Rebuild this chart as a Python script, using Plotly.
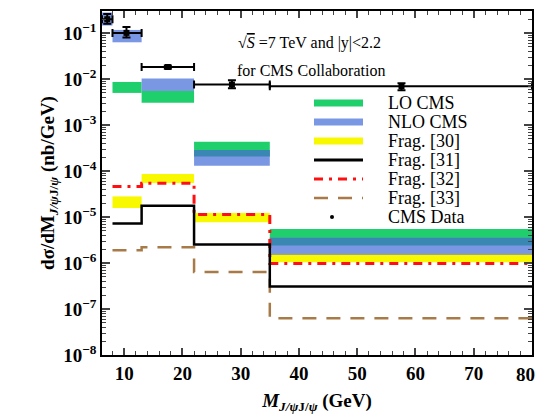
import plotly.graph_objects as go

# ---------------- data ----------------
bin_lo = [8, 13, 22, 35]
bin_hi = [13, 22, 35, 80]

# LO CMS (green) bands: lower / upper per bin
lo_cms_low = [5.0e-3, 3.04e-3, 2.06e-4, 2.40e-6]
lo_cms_high = [8.65e-3, 5.5e-3, 4.35e-4, 5.52e-6]

# NLO CMS (blue) bands, incl. first bin 6.2-8
nlo_bin_lo = [6.2, 8, 13, 22, 35]
nlo_bin_hi = [8, 13, 22, 35, 80]
nlo_cms_low = [0.146, 0.063, 5.5e-3, 1.30e-4, 1.51e-6]
nlo_cms_high = [0.28, 0.117, 1.03e-2, 2.88e-4, 3.56e-6]

# Frag. [30] (yellow) bands
frag30_low = [1.57e-5, 5.47e-5, 7.67e-6, 1.04e-6]
frag30_high = [2.81e-5, 8.57e-5, 1.23e-5, 1.61e-6]

# Frag. [31], [32], [33] step histograms
frag31 = [7.2e-6, 1.77e-5, 2.53e-6, 3.07e-7]
frag32 = [4.62e-5, 5.4e-5, 1.13e-5, 9.8e-7]
frag33 = [1.90e-6, 2.21e-6, 6.35e-7, 6.3e-8]

# CMS data
data_x = [7.1, 10.4, 17.5, 28.5, 57.6]
data_xlo = [6.2, 8, 13, 22, 35]
data_xhi = [8, 13, 22, 35, 80]
data_y = [0.2, 0.101, 0.0183, 7.6e-3, 7.0e-3]
data_ylo = [0.16, 0.0804, 0.0168, 6.3e-3, 5.7e-3]
data_yhi = [0.26, 0.135, 0.0198, 9.4e-3, 8.1e-3]

x_ticks = [10, 20, 30, 40, 50, 60, 70]
x_last_label = "80"
y_ticks = [1e-8, 1e-7, 1e-6, 1e-5, 1e-4, 1e-3, 1e-2, 1e-1]
y_ticktext = ["10<sup>−8</sup>", "10<sup>−7</sup>", "10<sup>−6</sup>", "10<sup>−5</sup>",
              "10<sup>−4</sup>", "10<sup>−3</sup>", "10<sup>−2</sup>", "10<sup>−1</sup>"]

legend_names = ["LO CMS", "NLO CMS", "Frag. [30]", "Frag. [31]", "Frag. [32]", "Frag. [33]", "CMS Data"]

# ---------------- styles ----------------
GREEN = "#1ecf6b"
BLUE = "#7a97e3"
TEAL = "#3a87b4"
YELLOW = "#f8f800"
GRAY = "#9aa08a"
RED = "#ff1010"
BROWN = "#a87a48"
FONT = "Liberation Serif"

fig = go.Figure()


def box(x0, x1, y0, y1, color):
    fig.add_trace(go.Scatter(x=[x0, x1, x1, x0, x0], y=[y0, y0, y1, y1, y0],
                             mode="lines", fill="toself", fillcolor=color,
                             line=dict(width=0), hoverinfo="skip", showlegend=False))


# yellow bands
for a, b, l, h in zip(bin_lo, bin_hi, frag30_low, frag30_high):
    box(a, b, l, h, YELLOW)
# green bands
for a, b, l, h in zip(bin_lo, bin_hi, lo_cms_low, lo_cms_high):
    box(a, b, l, h, GREEN)
# blue bands
for a, b, l, h in zip(nlo_bin_lo, nlo_bin_hi, nlo_cms_low, nlo_cms_high):
    box(a, b, l, h, BLUE)
# overlaps
for a, b, l, h in zip(bin_lo, bin_hi, lo_cms_low, lo_cms_high):
    for a2, b2, l2, h2 in zip(nlo_bin_lo, nlo_bin_hi, nlo_cms_low, nlo_cms_high):
        if a == a2 and b == b2 and max(l, l2) < min(h, h2):
            box(a, b, max(l, l2), min(h, h2), TEAL)
for a, b, l, h in zip(bin_lo, bin_hi, frag30_low, frag30_high):
    for a2, b2, l2, h2 in zip(nlo_bin_lo, nlo_bin_hi, nlo_cms_low, nlo_cms_high):
        if a == a2 and b == b2 and max(l, l2) < min(h, h2):
            box(a, b, max(l, l2), min(h, h2), GRAY)


def step(vals, color, dash, width):
    xs = list(bin_lo) + [bin_hi[-1]]
    ys = list(vals) + [vals[-1]]
    fig.add_trace(go.Scatter(x=xs, y=ys, mode="lines", line_shape="hv",
                             line=dict(color=color, dash=dash, width=width),
                             hoverinfo="skip", showlegend=False))


step(frag33, BROWN, "14px,10px", 2.5)
step(frag32, RED, "9px,6px,3px,6px", 3)
step(frag31, "black", "solid", 2.5)

fig.add_trace(go.Scatter(
    x=data_x, y=data_y, mode="markers",
    marker=dict(color="black", size=6, symbol="square"),
    error_x=dict(type="data", symmetric=False,
                 array=[h - x for h, x in zip(data_xhi, data_x)],
                 arrayminus=[x - l for l, x in zip(data_xlo, data_x)],
                 color="black", thickness=2, width=4),
    error_y=dict(type="data", symmetric=False,
                 array=[h - y for h, y in zip(data_yhi, data_y)],
                 arrayminus=[y - l for l, y in zip(data_ylo, data_y)],
                 color="black", thickness=2, width=4),
    showlegend=False, hoverinfo="skip"))

# ---------------- manual legend (paper coords) ----------------
X0, X1 = 102, 532
Y0, Y1 = 11, 355


def px(x):
    return (x - X0) / (X1 - X0)


def py(y):
    return (Y1 - y) / (Y1 - Y0)


rows = [103 + 19 * i for i in range(7)]
sx0, sx1 = px(314), px(363)
shapes = []
for i, (name, yy) in enumerate(zip(legend_names, rows)):
    if i < 3:
        col = [GREEN, BLUE, YELLOW][i]
        shapes.append(dict(type="rect", xref="paper", yref="paper", x0=sx0, x1=sx1,
                           y0=py(yy + 3.5), y1=py(yy - 3.5), fillcolor=col, line=dict(width=0)))
    elif i < 6:
        col, dash, w = [("black", "solid", 3), (RED, "9px,6px,3px,6px", 3),
                        (BROWN, "14px,10px", 2.5)][i - 3]
        shapes.append(dict(type="line", xref="paper", yref="paper", x0=sx0, x1=sx1,
                           y0=py(yy), y1=py(yy), line=dict(color=col, dash=dash, width=w)))
    else:
        shapes.append(dict(type="circle", xref="paper", yref="paper",
                           x0=px(330), x1=px(334), y0=py(yy + 2), y1=py(yy - 2),
                           fillcolor="black", line=dict(width=0)))

annotations = []
for name, yy in zip(legend_names, rows):
    annotations.append(dict(x=px(386), y=py(yy), xref="paper", yref="paper", text=name,
                            showarrow=False, xanchor="left", yanchor="middle",
                            font=dict(family=FONT, size=18, color="black")))

annotations.append(dict(x=px(309), y=py(43), xref="paper", yref="paper",
                        text="√<i><span style='text-decoration:overline'>S</span></i> =7 TeV and |y|&lt;2.2",
                        showarrow=False, xanchor="center", yanchor="middle",
                        font=dict(family=FONT, size=16, color="black")))
annotations.append(dict(x=px(311), y=py(70), xref="paper", yref="paper",
                        text="for CMS Collaboration",
                        showarrow=False, xanchor="center", yanchor="middle",
                        font=dict(family=FONT, size=16, color="black")))
# last x tick label, nudged inward as in the reference
annotations.append(dict(x=px(525), y=py(374), xref="paper", yref="paper",
                        text="<b>" + x_last_label + "</b>",
                        showarrow=False, xanchor="center", yanchor="middle",
                        font=dict(family=FONT, size=19, color="black")))

minor_y = [k * 10.0 ** e for e in range(-8, 0) for k in range(2, 10)]

fig.update_layout(
    width=541, height=414,
    margin=dict(l=102, r=9, t=11, b=59),
    plot_bgcolor="white", paper_bgcolor="white",
    shapes=shapes, annotations=annotations,
    showlegend=False,
    font=dict(family=FONT, color="black"),
    xaxis=dict(range=[6.2, 80], tickvals=x_ticks,
               ticks="inside", ticklen=7, tickwidth=1.5, automargin=False,
               showline=True, linecolor="black", linewidth=1.5, mirror="allticks",
               showgrid=False, zeroline=False,
               minor=dict(dtick=2, tick0=0, ticks="inside", ticklen=4, tickwidth=1.2, showgrid=False),
               tickfont=dict(family=FONT, size=19, color="black", weight="bold"),
               title=dict(text="<b><i>M</i><sub><i>J/ψ</i>J/<i>ψ</i></sub> (GeV)</b>",
                          font=dict(family=FONT, size=19, color="black"), standoff=12)),
    yaxis=dict(type="log", range=[-8, -0.52], tickvals=y_ticks, ticktext=y_ticktext,
               ticks="inside", ticklen=8, tickwidth=1.5, automargin=False,
               showline=True, linecolor="black", linewidth=1.5, mirror="allticks",
               showgrid=False, zeroline=False,
               minor=dict(tickvals=minor_y, ticks="inside", ticklen=4, tickwidth=1.2, showgrid=False),
               tickfont=dict(family=FONT, size=19, color="black", weight="bold"),
               ticklabelstandoff=0,
               title=dict(text="<b>dσ/dM<sub><i>J/ψ</i>J/<i>ψ</i></sub> (nb/GeV)</b>",
                          font=dict(family=FONT, size=19, color="black"), standoff=4)),
)

fig.write_html("out.html")
